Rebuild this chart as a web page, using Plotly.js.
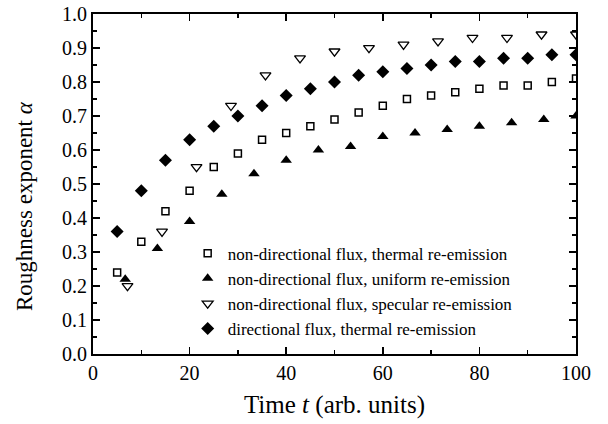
<!DOCTYPE html>
<html>
<head>
<meta charset="utf-8">
<script src="https://cdn.plot.ly/plotly-3.0.1.min.js"></script>
<style>html,body{margin:0;padding:0;background:#fff;}</style>
</head>
<body>
<div id="chart" style="width:608px;height:424px;"></div>
<script>
// Time values for each series
const tThermal = [5,10,15,20,25,30,35,40,45,50,55,60,65,70,75,80,85,90,95,100];
const alphaThermal = [0.24,0.33,0.42,0.48,0.55,0.59,0.63,0.65,0.67,0.69,0.71,0.73,0.75,0.76,0.77,0.78,0.79,0.79,0.80,0.81];

const tUniform = [6.67,13.33,20,26.67,33.33,40,46.67,53.33,60,66.67,73.33,80,86.67,93.33,100];
const alphaUniform = [0.22,0.31,0.39,0.47,0.53,0.57,0.60,0.61,0.64,0.65,0.66,0.67,0.68,0.69,0.70];

const tSpecular = [7.14,14.29,21.43,28.57,35.71,42.86,50,57.14,64.29,71.43,78.57,85.71,92.86,100];
const alphaSpecular = [0.20,0.36,0.55,0.73,0.82,0.87,0.89,0.90,0.91,0.92,0.93,0.93,0.94,0.94];

const tDirectional = [5,10,15,20,25,30,35,40,45,50,55,60,65,70,75,80,85,90,95,100];
const alphaDirectional = [0.36,0.48,0.57,0.63,0.67,0.70,0.73,0.76,0.78,0.80,0.82,0.83,0.84,0.85,0.86,0.86,0.87,0.87,0.88,0.88];

const seriesNames = [
  'non-directional flux, thermal re-emission',
  'non-directional flux, uniform re-emission',
  'non-directional flux, specular re-emission',
  'directional flux, thermal re-emission'
];

const xTitle = 'Time <i>t</i> (arb. units)';
const yTitle = 'Roughness exponent <i>α</i>';

const FONT = 'Liberation Serif, Times New Roman, serif';

const traces = [
  {x: tThermal, y: alphaThermal, name: seriesNames[0], mode: 'markers', type: 'scatter',
   marker: {symbol: 'square-open', size: 7, color: '#000', line: {width: 1.5, color: '#000'}}},
  {x: tUniform, y: alphaUniform, name: seriesNames[1], mode: 'markers', type: 'scatter',
   marker: {symbol: 'triangle-up', size: 10, color: '#000'}},
  {x: tSpecular, y: alphaSpecular, name: seriesNames[2], mode: 'markers', type: 'scatter',
   marker: {symbol: 'triangle-down-open', size: 9.5, color: '#000', line: {width: 1.3, color: '#000'}}},
  {x: tDirectional, y: alphaDirectional, name: seriesNames[3], mode: 'markers', type: 'scatter',
   marker: {symbol: 'diamond', size: 10, color: '#000'}}
];

const layout = {
  width: 608, height: 424,
  margin: {l: 93, r: 32, t: 14, b: 70},
  paper_bgcolor: '#fff', plot_bgcolor: '#fff',
  font: {family: FONT, color: '#000', size: 20},
  showlegend: true,
  legend: {x: 0.196, y: 0.348, xanchor: 'left', yanchor: 'top',
           bgcolor: 'rgba(0,0,0,0)', borderwidth: 0,
           font: {family: FONT, size: 17, color: '#000'}},
  xaxis: {
    range: [0, 100], dtick: 20, tick0: 0,
    showgrid: false, zeroline: false,
    showline: true, linewidth: 2, linecolor: '#000', mirror: 'ticks',
    ticks: 'inside', ticklen: 7, tickwidth: 1.5, tickcolor: '#000',
    minor: {dtick: 10, ticks: 'inside', ticklen: 4, tickwidth: 1.5, tickcolor: '#000', showgrid: false},
    tickfont: {family: FONT, size: 20, color: '#000'},
    title: {text: xTitle, font: {family: FONT, size: 25, color: '#000'}, standoff: 12}
  },
  yaxis: {
    range: [0, 1.0], dtick: 0.1, tick0: 0, tickformat: '.1f',
    showgrid: false, zeroline: false,
    showline: true, linewidth: 2, linecolor: '#000', mirror: 'ticks',
    ticks: 'inside', ticklen: 7, tickwidth: 1.5, tickcolor: '#000',
    minor: {dtick: 0.05, ticks: 'inside', ticklen: 4, tickwidth: 1.5, tickcolor: '#000', showgrid: false},
    tickfont: {family: FONT, size: 20, color: '#000'}
  },
  annotations: [{
    text: yTitle, xref: 'paper', yref: 'paper', x: -0.143, y: 0.435,
    xanchor: 'center', yanchor: 'middle', textangle: -90, showarrow: false,
    font: {family: FONT, size: 23, color: '#000'}
  }]
};

Plotly.newPlot('chart', traces, layout, {displayModeBar: false, staticPlot: true});
</script>
</body>
</html>
